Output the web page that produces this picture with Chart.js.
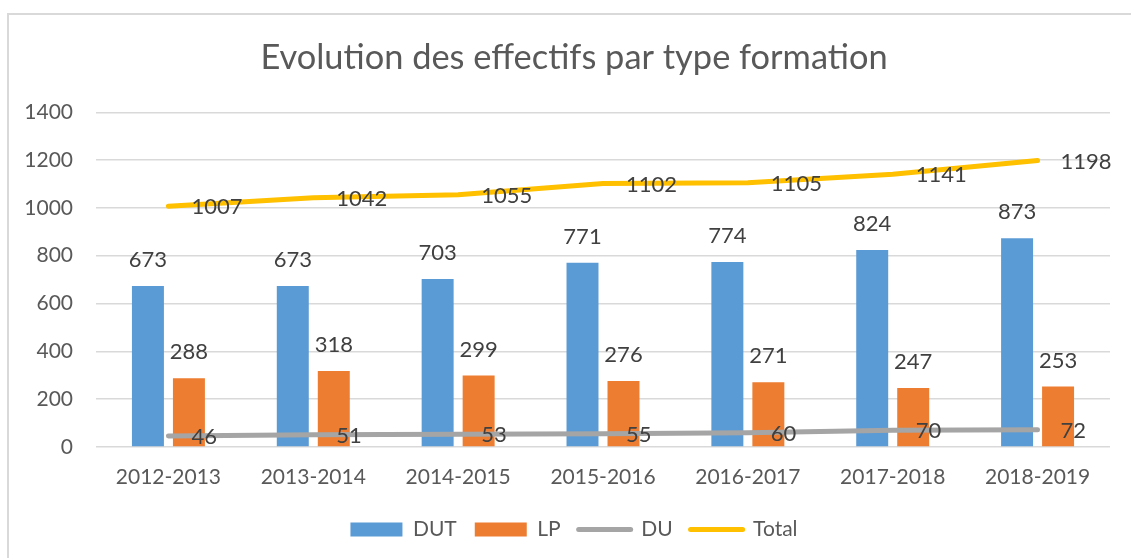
<!DOCTYPE html>
<html>
<head>
<meta charset="utf-8">
<script src="https://cdn.jsdelivr.net/npm/chart.js@4.4.1/dist/chart.umd.min.js"></script>
<style>
    html, body { margin: 0; padding: 0; background: #fff; overflow: hidden; }
    #frame { position: absolute; left: 7px; top: 13px; width: 1200px; height: 600px;
             border-left: 2px solid #d9d9d9; border-top: 2px solid #d9d9d9; }
    #wrap { position: absolute; left: 0; top: 0; width: 1131px; height: 558px; }
</style>
</head>
<body>
<div id="frame"></div>
<div id="wrap"><canvas id="effChart"></canvas></div>
<script>
// Years and numbers
var years = ['2012-2013', '2013-2014', '2014-2015', '2015-2016', '2016-2017', '2017-2018', '2018-2019'];
var dut = [673, 673, 703, 771, 774, 824, 873];
var lp = [288, 318, 299, 276, 271, 247, 253];
var du = [46, 51, 53, 55, 60, 70, 72];
var total = [1007, 1042, 1055, 1102, 1105, 1141, 1198];
var yTicks = [0, 200, 400, 600, 800, 1000, 1200, 1400];

var FONT = 'Lato, "Open Sans", sans-serif';

// Draw values next to bars (above) and line points (to the right)
var valueLabels = {
    id: 'valueLabels',
    afterDatasetsDraw: function(chart) {
        var ctx = chart.ctx;
        ctx.save();
        ctx.font = '22px ' + FONT;
        ctx.fillStyle = '#404040';
        chart.data.datasets.forEach(function(ds, i) {
            var meta = chart.getDatasetMeta(i);
            meta.data.forEach(function(el, j) {
                var txt = String(ds.data[j]);
                ctx.textBaseline = 'alphabetic';
                if (ds.type === 'line') {
                    ctx.textAlign = 'left';
                    ctx.fillText(txt, el.x + 23, el.y + 8);
                } else {
                    ctx.textAlign = 'center';
                    ctx.fillText(txt, el.x, el.y - 19);
                }
            });
        });
        ctx.restore();
    }
};

var ctx = document.getElementById('effChart').getContext('2d');
var effChart = new Chart(ctx, {
    type: 'bar',
    data: {
        labels: years,
        datasets: [
            { label: 'DUT', data: dut, backgroundColor: '#5B9BD5', order: 1,
              barPercentage: 0.78, categoryPercentage: 0.566 },
            { label: 'LP', data: lp, backgroundColor: '#ED7D31', order: 1,
              barPercentage: 0.78, categoryPercentage: 0.566 },
            { type: 'line', label: 'DU', data: du, borderColor: '#A5A5A5', backgroundColor: '#A5A5A5',
              borderWidth: 5, borderCapStyle: 'round', pointRadius: 0, tension: 0, order: 0 },
            { type: 'line', label: 'Total', data: total, borderColor: '#FFC000', backgroundColor: '#FFC000',
              borderWidth: 5, borderCapStyle: 'round', pointRadius: 0, tension: 0, order: 0 }
        ]
    },
    options: {
        responsive: true,
        maintainAspectRatio: false,
        animation: false,
        layout: { padding: { left: 17, right: 0, top: 0, bottom: 8 } },
        plugins: {
            title: {
                display: true,
                text: 'Evolution des effectifs par type formation',
                color: '#595959',
                font: { family: FONT, size: 34.4, weight: 'normal' },
                padding: { top: 37, bottom: 34 }
            },
            legend: {
                position: 'bottom',
                labels: {
                    color: '#595959',
                    font: { family: FONT, size: 21 },
                    usePointStyle: true,
                    pointStyleWidth: 52,
                    boxHeight: 14,
                    padding: 18,
                    generateLabels: function(chart) {
                        return chart.data.datasets.map(function(ds, i) {
                            var isLine = ds.type === 'line';
                            return {
                                text: ds.label,
                                fillStyle: ds.backgroundColor,
                                strokeStyle: isLine ? ds.borderColor : ds.backgroundColor,
                                lineWidth: isLine ? 5 : 0,
                                lineCap: 'round',
                                pointStyle: isLine ? 'line' : 'rect',
                                fontColor: '#595959',
                                datasetIndex: i,
                                hidden: false
                            };
                        });
                    }
                }
            },
            tooltip: { enabled: false }
        },
        scales: {
            x: {
                grid: { display: false },
                border: { display: false },
                ticks: { color: '#595959', font: { family: FONT, size: 21 }, padding: 10, maxRotation: 0 },
                afterFit: function(scale) { scale.height = 54; }
            },
            y: {
                min: 0,
                max: 1400,
                afterBuildTicks: function(scale) {
                    scale.ticks = yTicks.map(function(v) { return { value: v }; });
                },
                afterFit: function(scale) { scale.width = 79; },
                grid: { color: '#D9D9D9', lineWidth: 1.5, drawTicks: false },
                border: { display: false },
                ticks: {
                    color: '#595959', font: { family: FONT, size: 21 }, padding: 23,
                    callback: function(v) { return String(v); }
                }
            },
            // empty right-hand axis, only keeps a margin after the plot
            yRight: {
                position: 'right',
                grid: { display: false },
                border: { display: false },
                ticks: { display: false },
                afterFit: function(scale) { scale.width = 21; }
            }
        }
    },
    plugins: [valueLabels]
});
</script>
</body>
</html>
